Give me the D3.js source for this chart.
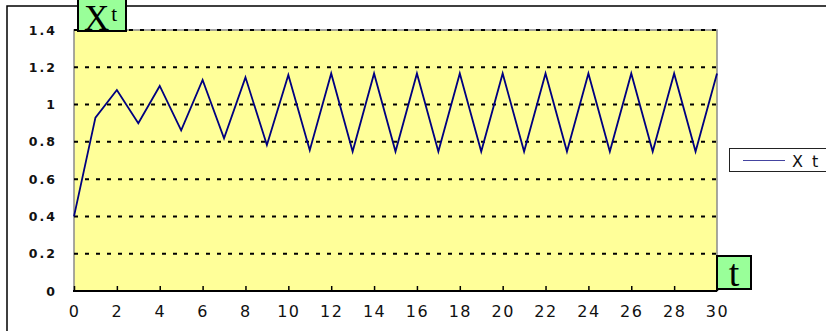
<!DOCTYPE html>
<html>
<head>
<meta charset="utf-8">
<script src="https://cdn.jsdelivr.net/npm/d3@7"></script>
<style>
  html, body { margin: 0; padding: 0; background: #ffffff; }
  svg { display: block; }
</style>
</head>
<body>
<svg id="chart" width="826" height="331"></svg>
<script>
// Time steps and the simulated X_t series
const timeSteps = [0, 1, 2, 3, 4, 5, 6, 7, 8, 9, 10, 11, 12, 13, 14, 15, 16, 17, 18, 19, 20, 21, 22, 23, 24, 25, 26, 27, 28, 29, 30];
const xtValues = [0.40, 0.93, 1.078, 0.90, 1.10, 0.862, 1.132, 0.819, 1.146, 0.783, 1.159, 0.755, 1.167, 0.748, 1.167, 0.748,
                  1.167, 0.748, 1.167, 0.748, 1.167, 0.748, 1.167, 0.748, 1.167, 0.748, 1.167, 0.748, 1.167, 0.748, 1.167];
const xTickValues = [0, 2, 4, 6, 8, 10, 12, 14, 16, 18, 20, 22, 24, 26, 28, 30];
const yTickValues = [0, 0.2, 0.4, 0.6, 0.8, 1, 1.2, 1.4];
const seriesName = "X t";

const svg = d3.select("#chart");

const plot = { left: 74, right: 717, top: 30, bottom: 291 };
const x = d3.scaleLinear().domain([0, 30]).range([plot.left, plot.right]);
const y = d3.scaleLinear().domain([0, 1.4]).range([plot.bottom, plot.top]);

// outer chart frame
svg.append("path")
  .attr("d", `M7,340 L7,6 L840,6`)
  .attr("fill", "none")
  .attr("stroke", "#000")
  .attr("stroke-width", 1.5);

// plot background
svg.append("rect")
  .attr("x", plot.left).attr("y", plot.top)
  .attr("width", plot.right - plot.left).attr("height", plot.bottom - plot.top)
  .attr("fill", "#ffff99")
  .attr("stroke", "#8a8a8a")
  .attr("stroke-width", 1.5);

// dashed horizontal gridlines
svg.append("g")
  .selectAll("line")
  .data(yTickValues.filter(v => v > 0))
  .join("line")
  .attr("x1", plot.left).attr("x2", plot.right)
  .attr("y1", d => y(d)).attr("y2", d => y(d))
  .attr("stroke", "#000")
  .attr("stroke-width", 2)
  .attr("stroke-dasharray", "4 7");

// y axis labels
const yAxis = d3.axisLeft(y).tickValues(yTickValues).tickSize(0).tickPadding(17)
  .tickFormat(d => d3.format("")(+d.toFixed(1)));
svg.append("g")
  .attr("transform", `translate(${plot.left},0)`)
  .call(yAxis)
  .call(g => g.select(".domain").remove())
  .call(g => g.selectAll("text")
    .style("font-family", "'DejaVu Sans', sans-serif")
    .style("font-weight", "bold")
    .style("font-size", "12.5px")
    .style("letter-spacing", "2px")
    .attr("fill", "#111"));

// x axis with inward ticks
const xAxis = d3.axisBottom(x).tickValues(xTickValues).tickSize(0).tickPadding(15);
const gx = svg.append("g")
  .attr("transform", `translate(0,${plot.bottom})`)
  .call(xAxis);
gx.select(".domain").remove();
gx.selectAll("text")
  .style("font-family", "'DejaVu Sans', sans-serif")
  .style("font-size", "16px")
  .style("letter-spacing", "1.5px")
  .attr("fill", "#111");
gx.selectAll(".tick").append("line")
  .attr("y1", -5).attr("y2", 0)
  .attr("stroke", "#000")
  .attr("stroke-width", 1.5);
gx.append("line")
  .attr("x1", plot.left - 1).attr("x2", plot.right)
  .attr("stroke", "#000")
  .attr("stroke-width", 2);

// series line
const line = d3.line()
  .x((d, i) => x(timeSteps[i]))
  .y(d => y(d));
svg.append("path")
  .datum(xtValues)
  .attr("d", line)
  .attr("fill", "none")
  .attr("stroke", "#000080")
  .attr("stroke-width", 1.8)
  .attr("stroke-linejoin", "miter");

// legend
const legend = svg.append("g");
legend.append("rect")
  .attr("x", 729.5).attr("y", 148.5)
  .attr("width", 110).attr("height", 23)
  .attr("fill", "#fff")
  .attr("stroke", "#222")
  .attr("stroke-width", 1);
legend.append("line")
  .attr("x1", 743).attr("x2", 785)
  .attr("y1", 160.5).attr("y2", 160.5)
  .attr("stroke", "#4444a0")
  .attr("stroke-width", 1.2);
legend.append("text")
  .attr("x", 792).attr("y", 166.5)
  .style("font-family", "'DejaVu Sans', sans-serif")
  .style("font-size", "16px")
  .style("letter-spacing", "2px")
  .attr("fill", "#111")
  .text(seriesName);

// axis name boxes
const yName = svg.append("g");
yName.append("rect")
  .attr("x", 78).attr("y", -6)
  .attr("width", 48).attr("height", 37)
  .attr("fill", "#99ff99")
  .attr("stroke", "#000")
  .attr("stroke-width", 2);
const yNameText = yName.append("text")
  .attr("x", 84).attr("y", 29.5)
  .style("font-family", "'Liberation Serif', 'Times New Roman', serif")
  .attr("fill", "#000");
yNameText.append("tspan").style("font-size", "35px").text("X");
yNameText.append("tspan").style("font-size", "21px").attr("dx", 2).attr("dy", -9).text("t");

const xName = svg.append("g");
xName.append("rect")
  .attr("x", 717).attr("y", 256)
  .attr("width", 34).attr("height", 33)
  .attr("fill", "#99ff99")
  .attr("stroke", "#000")
  .attr("stroke-width", 2);
xName.append("text")
  .attr("x", 734).attr("y", 286)
  .attr("text-anchor", "middle")
  .style("font-family", "'Liberation Serif', 'Times New Roman', serif")
  .style("font-size", "38px")
  .attr("fill", "#000")
  .text("t");
</script>
</body>
</html>
